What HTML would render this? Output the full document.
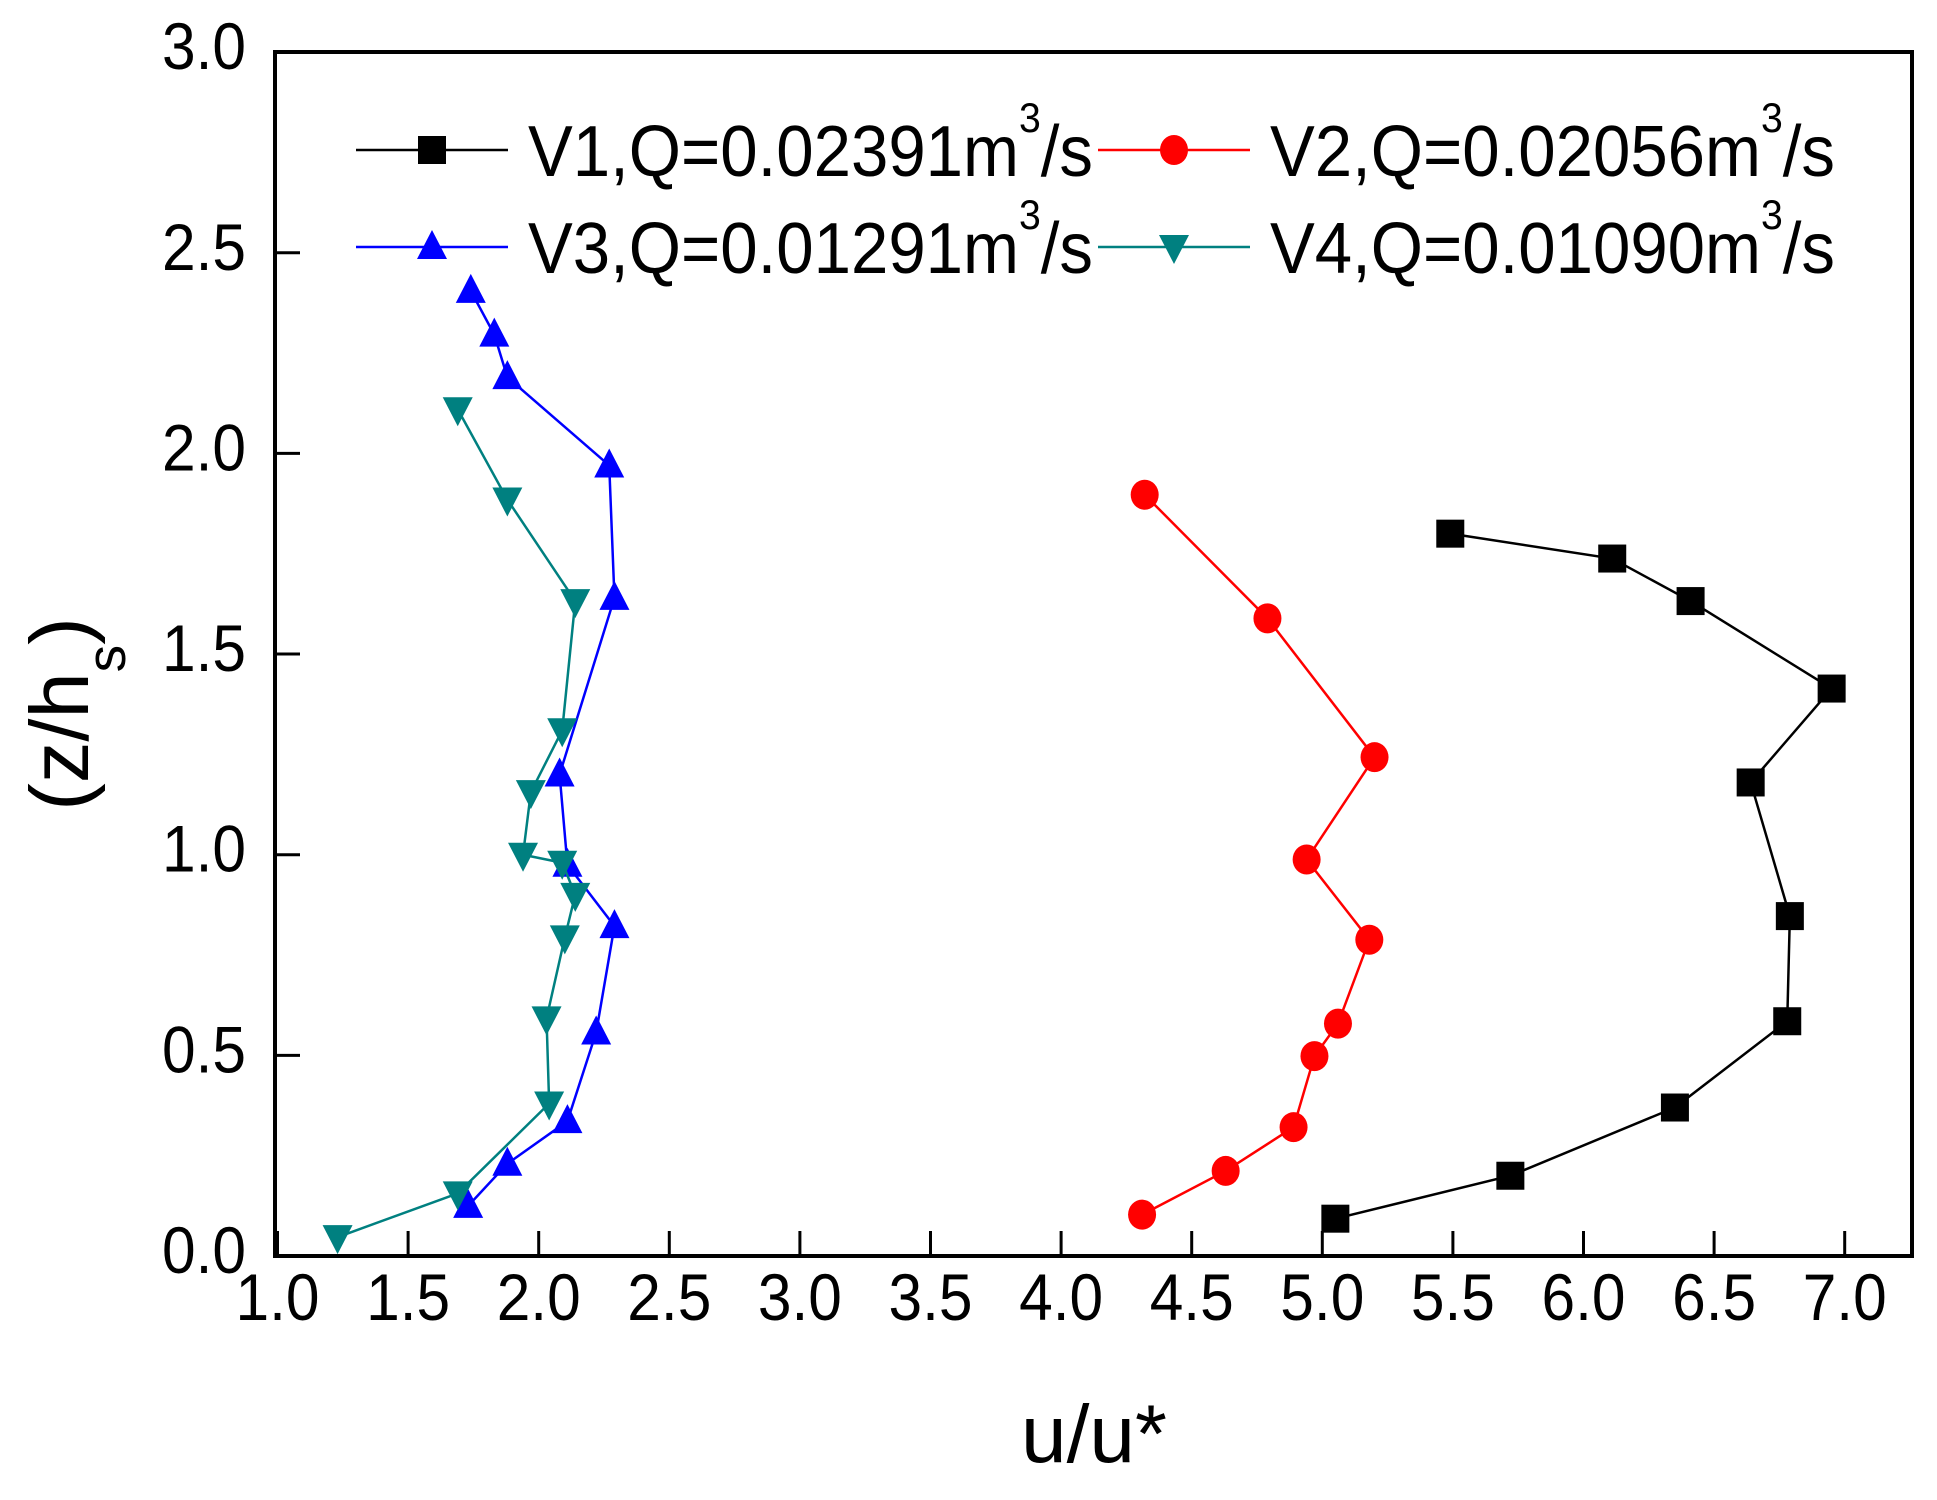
<!DOCTYPE html>
<html><head><meta charset="utf-8"><style>
html,body{margin:0;padding:0;background:#fff}
svg{display:block;font-family:"Liberation Sans",Arial,sans-serif}
</style></head><body>
<svg id="chart" width="1937" height="1500" viewBox="0 0 1937 1500" xmlns="http://www.w3.org/2000/svg">
<g id="plot"></g>
</svg>
<script>
const xTicks=[1.0,1.5,2.0,2.5,3.0,3.5,4.0,4.5,5.0,5.5,6.0,6.5,7.0];
const yTicks=[0.0,0.5,1.0,1.5,2.0,2.5,3.0];
const v1x=[5.05,5.72,6.35,6.78,6.79,6.64,6.95,6.41,6.11,5.49];
const v1y=[0.093,0.20,0.37,0.585,0.847,1.18,1.414,1.632,1.738,1.80];
const v2x=[4.31,4.63,4.89,4.97,5.06,5.18,4.94,5.20,4.79,4.32];
const v2y=[0.103,0.212,0.321,0.498,0.579,0.788,0.988,1.243,1.589,1.897];
const v3x=[1.73,1.88,2.11,2.22,2.29,2.11,2.08,2.29,2.27,1.88,1.83,1.74];
const v3y=[0.125,0.23,0.336,0.557,0.822,0.975,1.2,1.64,1.97,2.19,2.296,2.405];
const v4x=[1.23,1.69,2.04,2.03,2.10,2.14,2.09,1.94,1.97,2.09,2.14,1.88,1.69];
const v4y=[0.047,0.156,0.38,0.592,0.794,0.90,0.98,1.0,1.156,1.31,1.632,1.885,2.11];
const seriesNames=["V1,Q=0.02391m","V2,Q=0.02056m","V3,Q=0.01291m","V4,Q=0.01090m"];

const L=275,R=1912,T=52,B=1256;
const sx=v=>277.5+(v-1)*261.2;
const sy=v=>B-v*401.3;
const NS="http://www.w3.org/2000/svg";
const g=document.getElementById('plot');
function mk(tag,attrs,parent){const e=document.createElementNS(NS,tag);for(const k in attrs)e.setAttribute(k,attrs[k]);(parent||g).appendChild(e);return e;}

const fr=mk('rect',{x:L,y:T,width:R-L,height:B-T,fill:'none',stroke:'#000','stroke-width':4});



xTicks.forEach(t=>{
  const x=sx(t);
  const ln=mk('line',{x1:x,x2:x,y1:B,y2:B-25,stroke:'#000','stroke-width':3});
  
  
  const tx=mk('text',{x:x,y:1320,'font-size':66,'text-anchor':'middle',textLength:84,lengthAdjust:'spacingAndGlyphs'});
  tx.textContent=t.toFixed(1);
  
  
});
yTicks.forEach(t=>{
  const y=sy(t);
  const ln=mk('line',{x1:L,x2:L+25,y1:y,y2:y,stroke:'#000','stroke-width':3});
  
  
  const tx=mk('text',{x:246,y:y+17,'font-size':66,'text-anchor':'end',textLength:84,lengthAdjust:'spacingAndGlyphs'});
  tx.textContent=t.toFixed(1);
  
  
});

const xt=mk('text',{x:1094,y:1462,'font-size':82,'text-anchor':'middle'});
xt.textContent='u/u*';


const yt=mk('text',{transform:'translate(88,714) rotate(-90)','font-size':83,'text-anchor':'middle'});
yt.innerHTML='(z/h<tspan font-size="55" dy="37">s</tspan><tspan dy="-37">)</tspan>';



function marker(type,x,y,color,parent){
  let e;
  if(type==='sq') e=mk('rect',{x:x-14,y:y-14,width:28,height:28,fill:color},parent);
  else if(type==='ci') e=mk('ellipse',{cx:x,cy:y,rx:14,ry:15,fill:color},parent);
  else if(type==='up') e=mk('polygon',{points:`${x},${y-17} ${x-15},${y+12} ${x+15},${y+12}`,fill:color},parent);
  else e=mk('polygon',{points:`${x},${y+17} ${x-15},${y-12} ${x+15},${y-12}`,fill:color},parent);
  return e;
}
const series=[[v1x,v1y,'#000','sq','v1'],[v2x,v2y,'#ff0000','ci','v2'],[v3x,v3y,'#0000ff','up','v3'],[v4x,v4y,'#008080','dn','v4']];
series.forEach(s=>{
  const grp=mk('g',{});
  
  
  const pts=s[0].map((v,i)=>sx(v)+','+sy(s[1][i])).join(' ');
  const pl=mk('polyline',{points:pts,fill:'none',stroke:s[2],'stroke-width':2.5},grp);
  
  
  s[0].forEach((v,i)=>{
    const m=marker(s[3],sx(v),sy(s[1][i]),s[2],grp);
    
    
  });
});

const lpos=[[356,150],[1098,150],[356,247],[1098,247]];
series.forEach((s,i)=>{
  const [lx,ly]=lpos[i];
  const lg=mk('g',{});
  
  
  mk('line',{x1:lx,x2:lx+152,y1:ly,y2:ly,stroke:s[2],'stroke-width':2.5},lg);
  marker(s[3],lx+76,ly,s[2],lg);
  const tx=mk('text',{x:lx+172,y:ly+26,'font-size':72},lg);
  tx.innerHTML=seriesNames[i]+'<tspan font-size="42" dy="-44">3</tspan><tspan dy="44">/s</tspan>';
  tx.setAttribute('textLength',565);
  tx.setAttribute('lengthAdjust','spacingAndGlyphs');
});
</script>
</body></html>
